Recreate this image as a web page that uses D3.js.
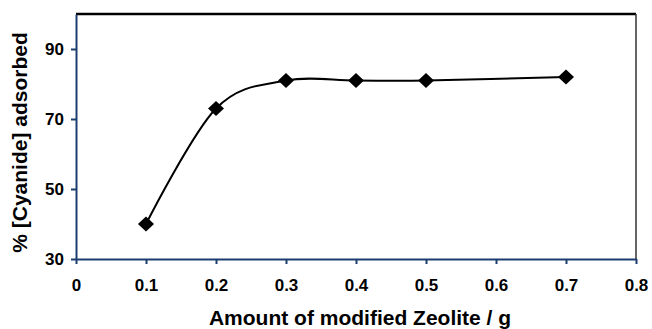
<!DOCTYPE html>
<html>
<head>
<meta charset="utf-8">
<script src="https://cdn.jsdelivr.net/npm/d3@7"></script>
<style>
  html, body { margin: 0; padding: 0; background: #fff; }
  svg { display: block; font-family: "Liberation Sans", Arial, sans-serif; }
</style>
</head>
<body>
<svg id="chart" width="652" height="329"></svg>
<script>
// Cyanide adsorption vs. amount of modified zeolite
const zeoliteAmount = [0.1, 0.2, 0.3, 0.4, 0.5, 0.7];
const cyanideAdsorbed = [40, 73, 81, 81, 81, 82];
const xTicks = [0, 0.1, 0.2, 0.3, 0.4, 0.5, 0.6, 0.7, 0.8];
const yTicks = [30, 50, 70, 90];

const svg = d3.select("#chart");
const margin = { left: 76, right: 16, top: 14, bottom: 70 };
const W = 652, H = 329;
const x = d3.scaleLinear().domain([0, 0.8]).range([margin.left, W - margin.right]);
const y = d3.scaleLinear().domain([30, 100]).range([H - margin.bottom, margin.top]);

const axisColor = "#1c3d70";

// top and right frame
svg.append("line").attr("x1", x(0)).attr("x2", x(0.8)).attr("y1", y(100)).attr("y2", y(100))
  .attr("stroke", "#000").attr("stroke-width", 2.5);
svg.append("line").attr("x1", x(0.8)).attr("x2", x(0.8)).attr("y1", y(100)).attr("y2", y(30))
  .attr("stroke", "#333").attr("stroke-width", 1.5);

// x axis
const gx = svg.append("g").attr("transform", `translate(0,${y(30)})`)
  .call(d3.axisBottom(x).tickValues(xTicks).tickSizeInner(5).tickSizeOuter(0).tickPadding(15)
    .tickFormat(d => d === 0 ? "0" : d3.format(".1f")(d)));
gx.select(".domain").attr("stroke", axisColor).attr("stroke-width", 2);
gx.selectAll(".tick line").attr("stroke", axisColor).attr("stroke-width", 2);
gx.selectAll(".tick text").attr("fill", "#000").attr("font-size", 17).attr("font-weight", "bold");

// y axis
const gy = svg.append("g").attr("transform", `translate(${x(0)},0)`)
  .call(d3.axisLeft(y).tickValues(yTicks).tickSizeInner(5).tickSizeOuter(0).tickPadding(7));
gy.select(".domain").attr("stroke", axisColor).attr("stroke-width", 2);
gy.selectAll(".tick line").attr("stroke", axisColor).attr("stroke-width", 2);
gy.selectAll(".tick text").attr("fill", "#000").attr("font-size", 17).attr("font-weight", "bold");

// axis titles
svg.append("text").attr("x", 360).attr("y", 325).attr("text-anchor", "middle")
  .attr("font-size", 21).attr("font-weight", "bold").text("Amount of modified Zeolite / g");
svg.append("text").attr("transform", "translate(27,142.5) rotate(-90)")
  .attr("text-anchor", "middle").attr("font-size", 21).attr("font-weight", "bold")
  .text("% [Cyanide] adsorbed");

// smoothed series line
const pts = zeoliteAmount.map((d, i) => [d, cyanideAdsorbed[i]]);
svg.append("path").datum(pts)
  .attr("fill", "none").attr("stroke", "#000").attr("stroke-width", 2)
  .attr("d", d3.line().x(d => x(d[0])).y(d => y(d[1])).curve(d3.curveCatmullRom.alpha(0)));

// diamond markers
svg.selectAll(".pt").data(pts).enter().append("path")
  .attr("transform", d => `translate(${x(d[0])},${y(d[1])})`)
  .attr("d", "M0,-7.5L8,0L0,7.5L-8,0Z").attr("fill", "#000");
</script>
</body>
</html>
